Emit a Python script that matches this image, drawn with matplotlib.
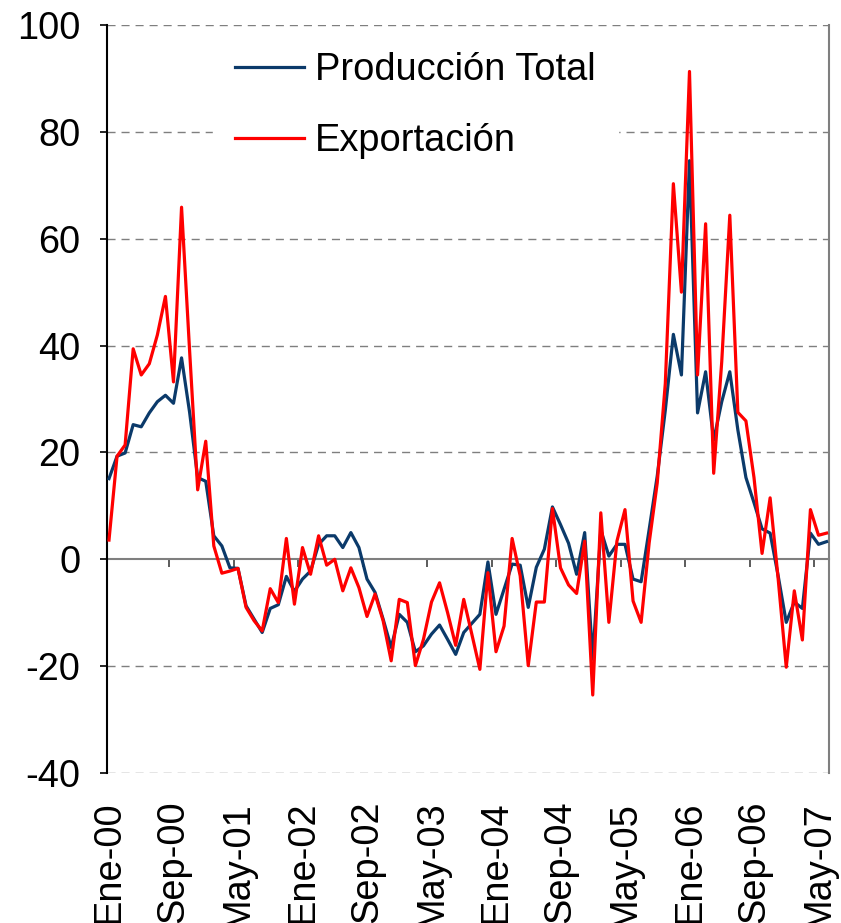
import matplotlib.pyplot as plt
import numpy as np

plt.rcParams["font.family"] = ["Liberation Sans", "DejaVu Sans"]
plt.rcParams["axes.unicode_minus"] = False

# monthly growth (%), Ene-00 .. Jun-07
produccion = [
    15.1, 19.3, 19.9, 25.2, 24.8, 27.4, 29.5, 30.7, 29.2, 37.7,
    27.5, 15.3, 14.6, 4.4, 2.5, -1.6, -1.7, -8.7, -11.2, -13.7,
    -9.2, -8.5, -3.2, -6.0, -3.7, -2.2, 2.8, 4.4, 4.4, 2.2,
    5.0, 2.2, -3.7, -6.2, -11.2, -16.5, -10.3, -11.8, -17.3, -16.2,
    -14.0, -12.3, -15.0, -17.8, -13.7, -12.0, -10.3, -0.5, -10.3, -5.6,
    -0.9, -1.1, -9.0, -1.5, 1.9, 9.8, 6.5, 3.0, -2.8, 5.0,
    -18.7, 5.5, 0.6, 2.8, 2.8, -3.7, -4.2, 5.6, 15.6, 27.9,
    42.1, 34.5, 74.6, 27.4, 35.1, 22.3, 29.5, 35.1, 24.2, 15.3,
    10.6, 5.7, 4.9, -3.1, -11.8, -8.0, -9.2, 4.9, 2.8, 3.3,
]
exportacion = [
    3.6, 19.3, 21.4, 39.4, 34.5, 36.6, 42.0, 49.2, 33.2, 65.9,
    39.0, 13.0, 22.1, 2.5, -2.6, -2.2, -1.7, -9.0, -11.5, -13.4,
    -5.5, -8.1, 3.9, -8.4, 2.2, -2.8, 4.4, -1.1, 0.0, -5.9,
    -1.6, -5.3, -10.7, -6.5, -11.5, -19.0, -7.5, -8.1, -19.9, -15.0,
    -8.0, -4.4, -10.0, -16.1, -7.5, -14.0, -20.6, -2.5, -17.3, -12.5,
    3.9, -3.1, -19.9, -8.0, -8.0, 9.5, -1.6, -4.8, -6.4, 3.4,
    -25.4, 8.7, -11.8, 3.4, 9.3, -7.8, -11.8, 3.1, 14.3, 32.9,
    70.3, 50.0, 91.3, 34.5, 62.8, 16.1, 37.0, 64.4, 27.5, 25.9,
    15.3, 1.1, 11.5, -3.7, -20.2, -5.9, -15.1, 9.3, 4.5, 4.9,
]
tick_labels = ["Ene-00", "Sep-00", "May-01", "Ene-02", "Sep-02", "May-03",
               "Ene-04", "Sep-04", "May-05", "Ene-06", "Sep-06", "May-07"]
label_step = 8

FS = 27.4
grid_col = "#7f7f7f"

x = np.arange(len(produccion))

fig = plt.figure(figsize=(8.41, 9.23), dpi=100)
ax = fig.add_axes([0.1272, 0.1625, 0.8585, 0.8104])

ax.plot(x, produccion, color="#0b3a6a", lw=2.3, label="Producción Total", zorder=3)
ax.plot(x, exportacion, color="#ff0000", lw=2.3, label="Exportación", zorder=4)

ax.set_xlim(-0.25, 89.3)
ax.set_ylim(-40, 100)
ax.set_yticks(np.arange(-40, 101, 20))
ax.tick_params(axis="y", labelsize=FS, length=5, width=1.2, direction="out", pad=14)

ax.set_xticks(x[::label_step])
ax.set_xticklabels(tick_labels, rotation=90, fontsize=FS)
ax.tick_params(axis="x", length=0, pad=20)

# dashed horizontal grid (also top and bottom edge)
for v in ax.get_yticks():
    if v != 0:
        ax.axhline(v, color=grid_col, lw=1.0, ls=(0, (5.8, 4.3)), zorder=1)

for side in ("top", "bottom"):
    ax.spines[side].set_visible(False)
ax.spines["left"].set_color("black")
ax.spines["left"].set_linewidth(1.5)
ax.spines["right"].set_color(grid_col)
ax.spines["right"].set_linewidth(1.5)

# category axis crossing at zero with ticks between groups of months
zero_frac = (0 - (-40)) / (100 - (-40))
sec = ax.secondary_xaxis(zero_frac)
sec.set_xticks(np.arange(label_step - 0.5, len(x), label_step))
sec.set_xticklabels([])
sec.tick_params(axis="x", length=6, width=1.2, color="#404040", direction="out")
sec.spines["bottom"].set_color(grid_col)
sec.spines["bottom"].set_linewidth(1.5)

leg = ax.legend(loc="upper left", bbox_to_anchor=(0.147, 0.993), borderaxespad=0,
                fontsize=FS, frameon=True, fancybox=False, framealpha=1,
                edgecolor="white", facecolor="white", handlelength=1.81,
                handletextpad=0.29, labelspacing=0.92, borderpad=0.58)
leg.set_zorder(5)

fig.savefig("out.png", dpi=100)
